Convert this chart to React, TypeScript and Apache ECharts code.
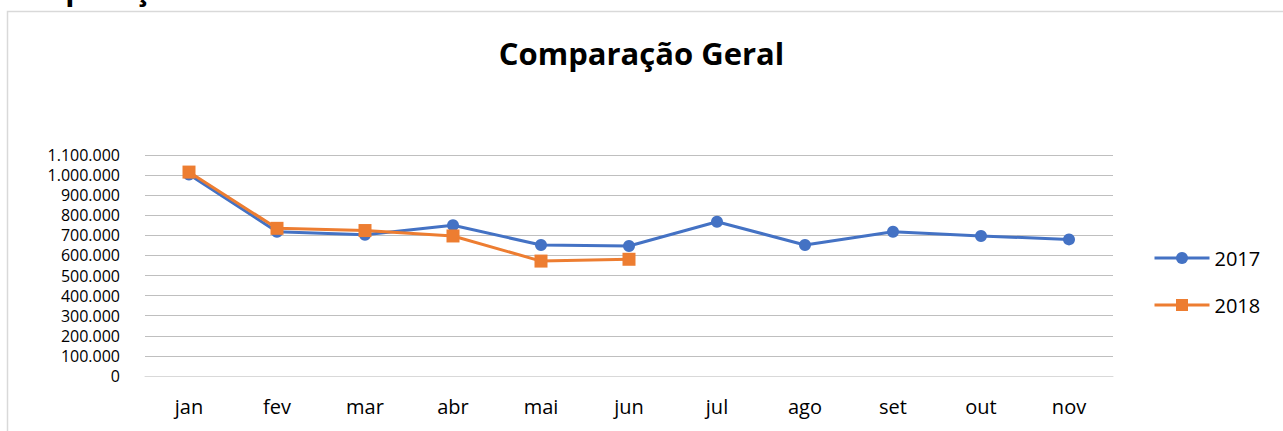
import React, { useEffect, useRef } from "react";
import * as echarts from "echarts";

const categories = ["jan", "fev", "mar", "abr", "mai", "jun", "jul", "ago", "set", "out", "nov"];
const values2017 = [1003000, 718000, 703000, 750000, 652000, 647000, 768000, 652000, 718000, 697000, 680000];
const values2018 = [1015000, 735000, 724000, 697000, 572000, 581000];
const seriesNames = ["2017", "2018"];
const chartTitle = "Comparação Geral";

function fmt(v: number): string {
  return String(Math.round(v)).replace(/\B(?=(\d{3})+(?!\d))/g, ".");
}

export default function App() {
  const ref = useRef<HTMLDivElement>(null);
  useEffect(() => {
    document.body.style.margin = "0";
    const chart = echarts.init(ref.current!, null, { renderer: "svg" });
    const font = "Open Sans, Calibri, Carlito, sans-serif";
    chart.setOption({
      animation: false,
      backgroundColor: "#ffffff",
      textStyle: { fontFamily: font },
      title: {
        text: chartTitle,
        left: "center",
        top: 32,
        textStyle: { fontSize: 31, fontWeight: "bold", color: "#000", fontFamily: font },
      },
      graphic: [
        {
          type: "rect",
          shape: { x: 7.5, y: 11.5, width: 1300, height: 450 },
          style: { fill: "none", stroke: "#d9d9d9", lineWidth: 1.5 },
          silent: true,
        },
        {
          type: "text",
          left: -2,
          top: -27,
          style: { text: chartTitle, font: "bold 30px " + font, fill: "#000" },
          silent: true,
        },
      ],
      legend: {
        orient: "vertical",
        left: 1148,
        top: 243,
        itemGap: 27,
        itemWidth: 55,
        itemHeight: 15,
        lineStyle: { width: 3 },
        textStyle: { fontSize: 20, lineHeight: 20, color: "#000", fontFamily: font },
        data: [seriesNames[0], seriesNames[1]],
      },
      grid: { left: 145, right: 170, top: 155, bottom: 55, containLabel: false },
      xAxis: {
        type: "category",
        data: categories,
        boundaryGap: true,
        axisLine: { lineStyle: { color: "#d9d9d9", width: 1 } },
        axisTick: { show: false },
        axisLabel: { fontSize: 20, color: "#000", margin: 20, fontFamily: font },
      },
      yAxis: {
        type: "value",
        min: 0,
        max: 1100000,
        interval: 100000,
        axisLine: { show: false },
        axisTick: { show: false },
        splitLine: { lineStyle: { color: "#bfbfbf", width: 1 } },
        axisLabel: { fontSize: 16, color: "#000", margin: 25, formatter: (v: number) => fmt(v), fontFamily: font, lineHeight: 16 },
      },
      series: [
        {
          name: seriesNames[0],
          type: "line",
          data: values2017,
          symbol: "circle",
          symbolSize: 12,
          lineStyle: { color: "#4472C4", width: 3 },
          itemStyle: { color: "#4472C4" },
          z: 2,
        },
        {
          name: seriesNames[1],
          type: "line",
          data: values2018,
          symbol: "rect",
          symbolSize: 13,
          lineStyle: { color: "#ED7D31", width: 3 },
          itemStyle: { color: "#ED7D31" },
          z: 3,
        },
      ],
    });
    return () => chart.dispose();
  }, []);
  return <div ref={ref} style={{ position: "absolute", left: 0, top: 0, width: 1283, height: 431 }} />;
}
